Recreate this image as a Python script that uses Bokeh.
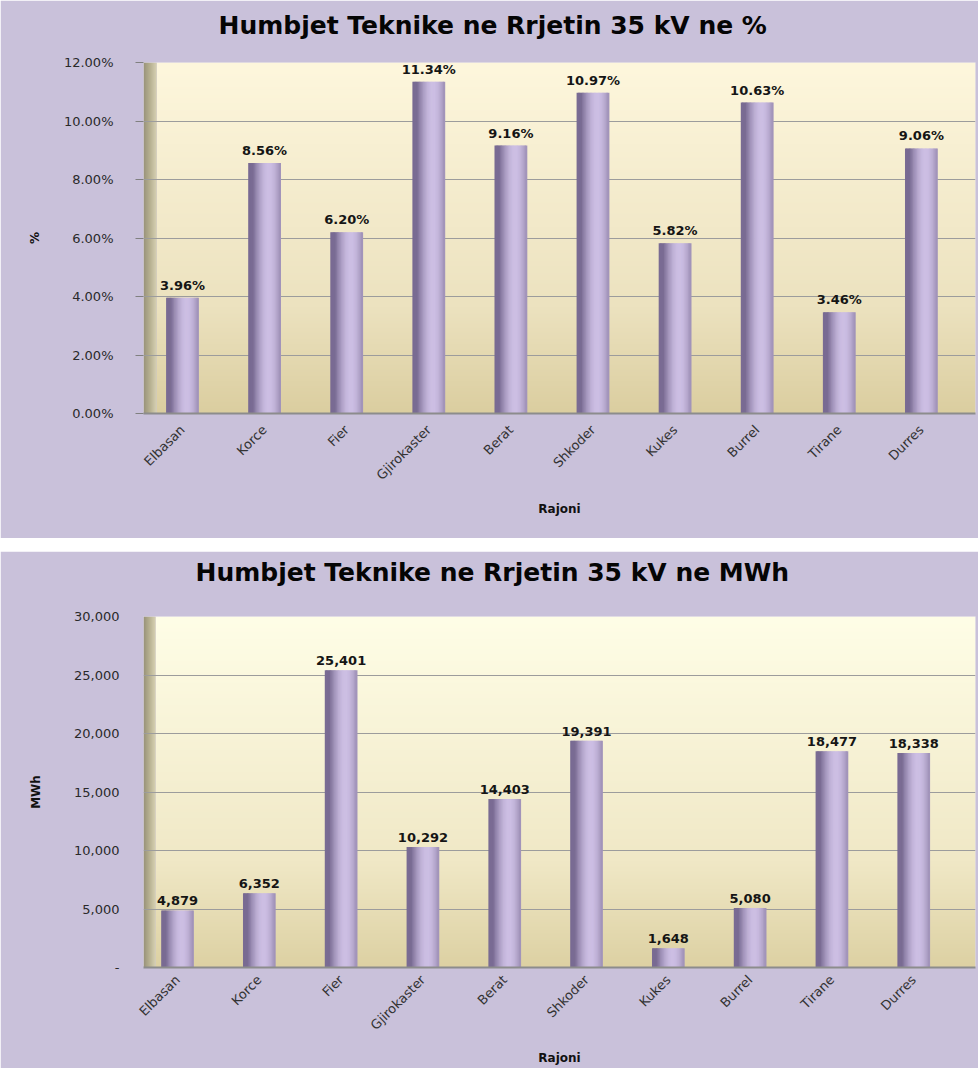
import math
import numpy as np
from bokeh.plotting import figure
from bokeh.models import Range1d, FixedTicker, PrintfTickFormatter, NumeralTickFormatter
from bokeh.layouts import column
from bokeh.core.properties import value
from bokeh.embed import file_html
from bokeh.resources import INLINE

# ---------------- data ----------------
regions = ["Elbasan", "Korce", "Fier", "Gjirokaster", "Berat",
           "Shkoder", "Kukes", "Burrel", "Tirane", "Durres"]
loss_pct = [3.96, 8.56, 6.20, 11.34, 9.16, 10.97, 5.82, 10.63, 3.46, 9.06]
loss_mwh = [4879, 6352, 25401, 10292, 14403, 19391, 1648, 5080, 18477, 18338]
pct_ticks = [0, 2, 4, 6, 8, 10, 12]
mwh_ticks = [0, 5000, 10000, 15000, 20000, 25000, 30000]
title_pct = "Humbjet Teknike ne Rrjetin 35 kV ne %"
title_mwh = "Humbjet Teknike ne Rrjetin 35 kV ne MWh"
x_title = "Rajoni"

# ---------------- style ----------------
BG = "#C9C1DA"
FONT = "DejaVu Sans"
BAR_DARK = (0x6E, 0x60, 0x88)
BAR_LIGHT = (0xCD, 0xBF, 0xE4)


def hex2rgb(h):
    h = h.lstrip("#")
    return tuple(int(h[i:i + 2], 16) for i in (0, 2, 4))


def grad_img(stops, n, axis):
    ts = np.linspace(0, 1, n)
    pos = [s[0] for s in stops]
    cols = [hex2rgb(s[1]) for s in stops]
    arr = np.zeros((n, 4), dtype=np.uint8)
    for c in range(3):
        arr[:, c] = np.interp(ts, pos, [col[c] for col in cols]).astype(np.uint8)
    arr[:, 3] = 255
    flat = arr.view(np.uint32).reshape(n)
    if axis == "y":
        return np.ascontiguousarray(np.repeat(flat.reshape(n, 1), 2, axis=1))
    return np.ascontiguousarray(np.repeat(flat.reshape(1, n), 2, axis=0))


def shade(t):
    theta = (t - 0.5) * math.pi
    s = max(0.0, math.cos(theta - 0.45))
    s = 0.12 + 0.88 * s
    r, g, b = (int(BAR_DARK[c] + (BAR_LIGHT[c] - BAR_DARK[c]) * s) for c in range(3))
    return "#%02x%02x%02x" % (r, g, b)


def make_chart(vals, ticks, title, title_offset, title_lh, ylabel, label_fmt, yfmt, height,
               x_lo, x_hi, wall_w, border_top, border_bottom, border_left,
               bg_stops, tick_out, label_standoff,
               ylabel_standoff, xlab_standoff, xtitle_standoff, overrides=None):
    y_hi = ticks[-1]
    p = figure(width=978, height=height, output_backend="svg", toolbar_location=None,
               x_range=Range1d(x_lo, x_hi), y_range=Range1d(0, y_hi),
               min_border_left=border_left, min_border_right=3,
               min_border_top=border_top, min_border_bottom=border_bottom,
               background_fill_color=BG, border_fill_color=BG, outline_line_color=None)
    # title: a blank second line lifts the text within the top border
    p.title.text = title + "\n "
    p.title.align = "left"
    p.title.vertical_align = "bottom"
    p.title.offset = title_offset
    p.title.standoff = 0
    p.title.text_line_height = title_lh
    p.title.text_font = FONT
    p.title.text_font_size = "25px"
    p.title.text_font_style = "bold"
    p.title.text_color = "#050505"

    # back wall gradient and side wall
    p.image_rgba(image=[grad_img(bg_stops, 256, "y")], x=x_lo + wall_w, y=0,
                 dw=x_hi - x_lo - wall_w, dh=y_hi, level="image")
    p.image_rgba(image=[grad_img([(0, "#98927A"), (0.5, "#B8B292"), (1, "#D8D2B4")], 64, "x")],
                 x=x_lo, y=0, dw=wall_w, dh=y_hi, level="image")

    # cylinder-like bars drawn as shaded slices
    K = 24
    w = 0.39
    xs, tops, cols = [], [], []
    for i, v in enumerate(vals):
        for k in range(K):
            t = (k + 0.5) / K
            xs.append(i - w / 2 + t * w)
            tops.append(v)
            cols.append(shade(t))
    p.vbar(x=xs, top=tops, bottom=0, width=w / K * 1.6, fill_color=cols, line_color=None)

    labels = [label_fmt(v) for v in vals]
    p.text(x=list(range(len(vals))), y=vals, text=labels, text_align="center",
           text_baseline="bottom", y_offset=-5, text_font=value(FONT),
           text_font_style="bold", text_font_size="13px", text_color="#151515")

    p.xgrid.visible = False
    p.ygrid.grid_line_color = "#9C9C9C"
    p.ygrid.grid_line_width = 1

    p.yaxis.ticker = FixedTicker(ticks=ticks)
    p.yaxis.formatter = yfmt
    if overrides:
        p.yaxis.major_label_overrides = overrides
    p.yaxis.axis_line_color = None
    p.yaxis.major_tick_line_color = "#808080"
    p.yaxis.major_tick_out = tick_out
    p.yaxis.major_tick_in = 0
    p.yaxis.minor_tick_line_color = None
    p.yaxis.major_label_standoff = label_standoff
    p.yaxis.major_label_text_font = FONT
    p.yaxis.major_label_text_font_size = "13px"
    p.yaxis.major_label_text_color = "#2A2A2A"
    p.yaxis.axis_label = ylabel
    p.yaxis.axis_label_text_font = FONT
    p.yaxis.axis_label_text_font_size = "12px"
    p.yaxis.axis_label_text_font_style = "bold"
    p.yaxis.axis_label_text_color = "#111111"
    p.yaxis.axis_label_standoff = ylabel_standoff

    p.xaxis.ticker = FixedTicker(ticks=list(range(len(regions))))
    p.xaxis.major_label_overrides = {i: r for i, r in enumerate(regions)}
    p.xaxis.major_label_orientation = math.pi / 4
    p.xaxis.axis_line_color = "#8C8C8C"
    p.xaxis.axis_line_width = 2
    p.xaxis.major_tick_line_color = None
    p.xaxis.minor_tick_line_color = None
    p.xaxis.major_label_standoff = xlab_standoff
    p.xaxis.major_label_text_font = FONT
    p.xaxis.major_label_text_font_size = "13px"
    p.xaxis.major_label_text_color = "#333333"
    p.xaxis.axis_label = x_title
    p.xaxis.axis_label_text_font = FONT
    p.xaxis.axis_label_text_font_size = "12px"
    p.xaxis.axis_label_text_font_style = "bold"
    p.xaxis.axis_label_text_color = "#111111"
    p.xaxis.axis_label_standoff = xtitle_standoff
    return p


p1 = make_chart(loss_pct, pct_ticks, title_pct, 75, 0.78, "%", lambda v: "%.2f%%" % v,
                PrintfTickFormatter(format="%.2f%%"), 538,
                x_lo=-0.475, x_hi=9.659, wall_w=0.16, border_top=62, border_bottom=125,
                border_left=143,
                bg_stops=[(0, "#DBCEA0"), (0.3, "#ECE2BF"), (1, "#FEF7DD")],
                tick_out=8, label_standoff=22,
                ylabel_standoff=19, xlab_standoff=8, xtitle_standoff=11)

p2 = make_chart(loss_mwh, mwh_ticks, title_mwh, 52, 1.02, "MWh", lambda v: "{:,}".format(v),
                NumeralTickFormatter(format="0,0"), 517,
                x_lo=-0.416, x_hi=9.755, wall_w=0.147, border_top=65, border_bottom=98,
                border_left=143,
                bg_stops=[(0, "#DDD1A3"), (0.3, "#F0E8C6"), (1, "#FFFEE7")],
                tick_out=0, label_standoff=24,
                ylabel_standoff=28, xlab_standoff=4, xtitle_standoff=10,
                overrides={0: "-"})

layout = column(p1, p2, spacing=13)
open("out.html", "w").write(file_html(layout, INLINE))
